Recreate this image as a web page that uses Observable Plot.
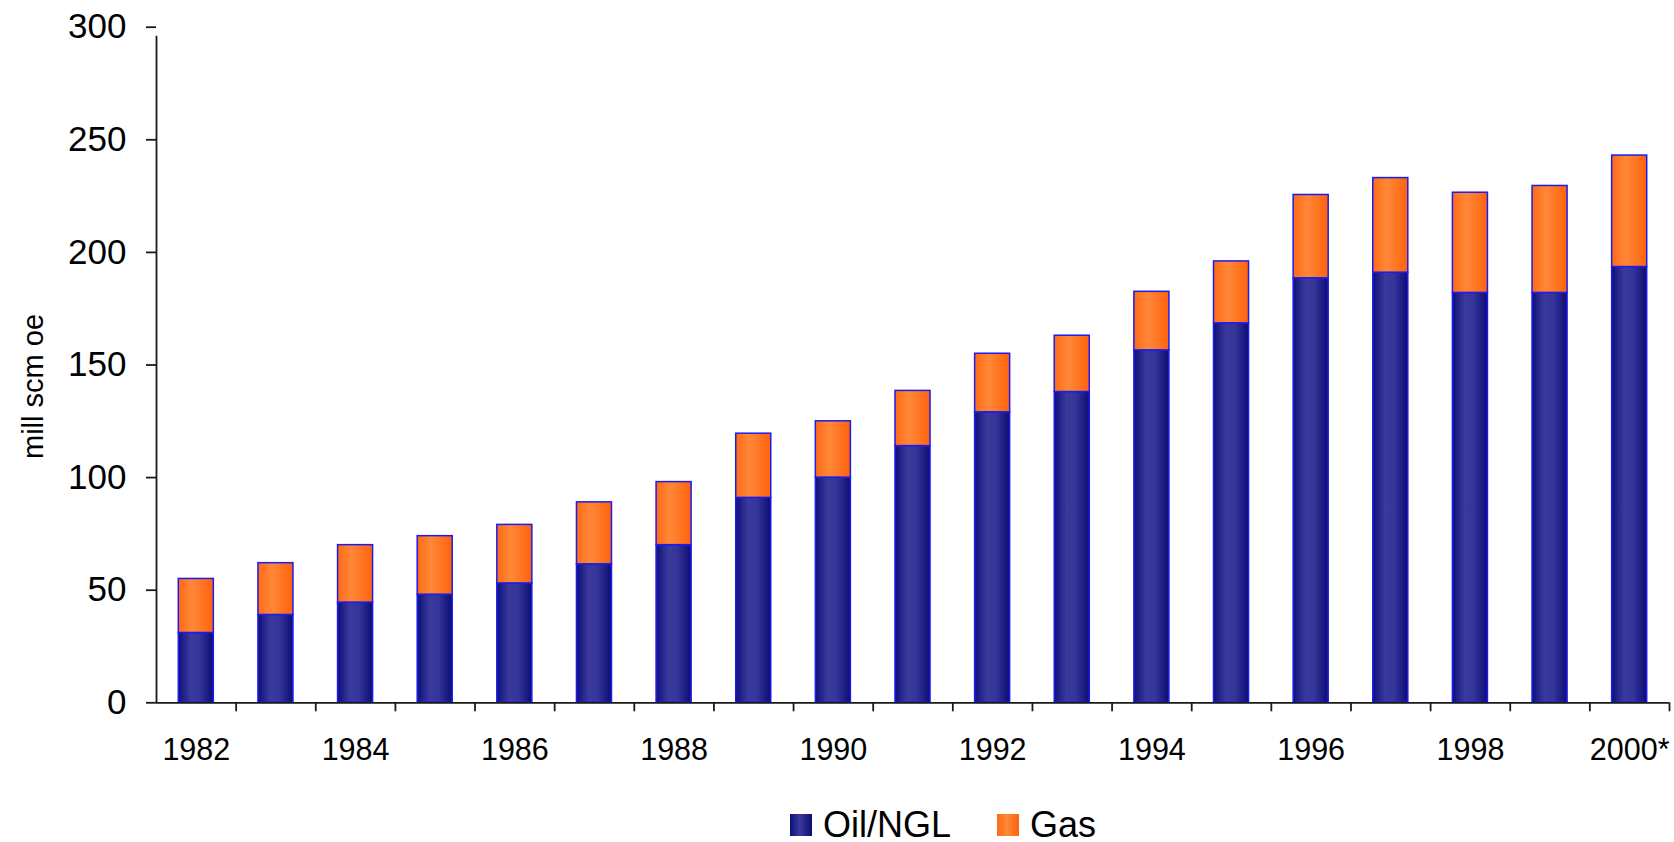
<!DOCTYPE html>
<html>
<head>
<meta charset="utf-8">
<script src="https://cdn.jsdelivr.net/npm/d3@7"></script>
<script src="https://cdn.jsdelivr.net/npm/@observablehq/plot@0.6"></script>
<style>
  html, body { margin: 0; padding: 0; background: #fff; }
  body { font-family: "Liberation Sans", Arial, sans-serif; width: 1674px; height: 842px; overflow: hidden; }
  #legend { position: relative; width: 1674px; height: 42px; }
  .sw { position: absolute; width: 22px; height: 22px; top: 14px; }
  .lt { position: absolute; top: 5px; font-size: 36px; line-height: 40px; color: #000; }
</style>
</head>
<body>
<svg width="0" height="0" style="position:absolute">
  <defs>
    <linearGradient id="gOil" x1="0" x2="1" y1="0" y2="0">
      <stop offset="0" stop-color="#0e0e7a"/>
      <stop offset="0.35" stop-color="#3a3a9c"/>
      <stop offset="0.6" stop-color="#35359a"/>
      <stop offset="1" stop-color="#0c0c74"/>
    </linearGradient>
    <linearGradient id="gGas" x1="0" x2="1" y1="0" y2="0">
      <stop offset="0" stop-color="#ff6a14"/>
      <stop offset="0.4" stop-color="#ff8838"/>
      <stop offset="1" stop-color="#ff620c"/>
    </linearGradient>
  </defs>
</svg>
<div id="chart"></div>
<div id="legend">
  <div class="sw" style="left:790px;background:linear-gradient(to right,#0e0e7a,#3a3a9c 45%,#0c0c74)"></div>
  <div class="lt" style="left:823px">Oil/NGL</div>
  <div class="sw" style="left:997px;background:linear-gradient(to right,#ff6a14,#ff8838 45%,#ff620c)"></div>
  <div class="lt" style="left:1030px">Gas</div>
</div>
<script>
const years = ["1982","1983","1984","1985","1986","1987","1988","1989","1990","1991","1992","1993","1994","1995","1996","1997","1998","1999","2000*"];
const oil = [31, 39, 44.5, 48, 53, 61.5, 70, 91, 100, 114, 129, 138, 156.5, 168.5, 188.5, 191, 182, 182, 193.5];
const gas = [24, 23, 25.5, 26, 26, 27.5, 28, 28.5, 25, 24.5, 26, 25, 26, 27.5, 37, 42, 44.5, 47.5, 49.5];
const seriesNames = ["Oil/NGL", "Gas"];
const yTicks = [0, 50, 100, 150, 200, 250, 300];
const xLabels = years.filter((d, i) => i % 2 === 0);
const yTitle = "mill scm oe";

const data = [];
years.forEach((yr, i) => {
  data.push({year: yr, series: seriesNames[0], value: oil[i]});
  data.push({year: yr, series: seriesNames[1], value: gas[i]});
});

const W = 1674, H = 800;
const mL = 156, mR = 5, mT = 26.7, mB = 97.7;
const step = (W - mL - mR) / years.length;
const font = '"Liberation Sans", Arial, sans-serif';

const plot = Plot.plot({
  width: W,
  height: H,
  marginLeft: mL,
  marginRight: mR,
  marginTop: mT,
  marginBottom: mB,
  style: {fontFamily: font, color: "#000", background: "#fff"},
  x: {type: "band", domain: years, paddingInner: 0.56, paddingOuter: 0.28, round: false, label: null},
  y: {domain: [0, 300], label: null},
  color: {domain: seriesNames, range: ["url(#gOil)", "url(#gGas)"]},
  marks: [
    Plot.barY(data, {x: "year", y: "value", fill: "series", stroke: "#1c1cf0", strokeWidth: 1.5}),
    Plot.ruleY([0], {stroke: "#1a1a1a", strokeWidth: 1.8}),
    Plot.ruleX([years[0]], {dx: -step / 2, y1: 0, y2: 300, insetBottom: -9, stroke: "#1a1a1a", strokeWidth: 1.8}),
    Plot.axisX({ticks: years, tickSize: 9, dx: step / 2, tickFormat: () => "", stroke: "#1a1a1a", strokeWidth: 1.8}),
    Plot.axisX({ticks: xLabels, tickSize: 0, tickPadding: 36, fontSize: 30.5, fill: "#000"}),
    Plot.axisY({ticks: yTicks, tickSize: 10, tickPadding: 20, fontSize: 35, fill: "#000", stroke: "#1a1a1a", strokeWidth: 1.8, label: null}),
    Plot.text([yTitle], {text: d => d, frameAnchor: "left", rotate: -90, dx: -123, dy: 21.5, fontSize: 29, textAnchor: "middle", lineAnchor: "middle", fill: "#000"})
  ]
});
document.getElementById("chart").appendChild(plot);
</script>
</body>
</html>
